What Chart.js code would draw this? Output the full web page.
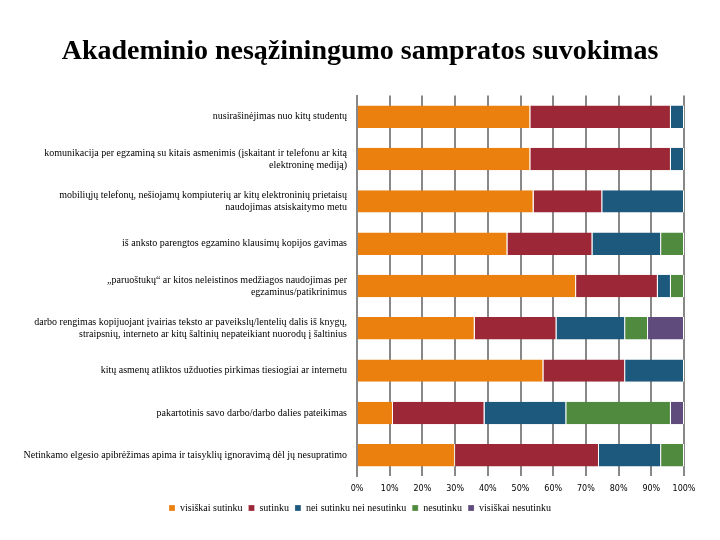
<!DOCTYPE html>
<html>
<head>
<meta charset="utf-8">
<script src="https://cdn.jsdelivr.net/npm/chart.js@4"></script>
<style>
  body { margin: 0; background: #fff; }
  #wrap { width: 720px; height: 540px; position: relative; }
</style>
</head>
<body>
<div id="wrap"><canvas id="myChart"></canvas></div>
<script>
// kategorijos (iš viršaus žemyn)
const categories = [
  "nusirašinėjimas nuo kitų studentų",
  ["komunikacija per egzaminą su kitais asmenimis (įskaitant ir telefonu ar kitą", "elektroninę mediją)"],
  ["mobiliųjų telefonų, nešiojamų kompiuterių ar kitų elektroninių prietaisų", "naudojimas atsiskaitymo metu"],
  "iš anksto parengtos egzamino klausimų kopijos gavimas",
  ["„paruoštukų“ ar kitos neleistinos medžiagos naudojimas per", "egzaminus/patikrinimus"],
  ["darbo rengimas kopijuojant įvairias teksto ar paveikslų/lentelių dalis iš knygų,", "straipsnių, interneto ar kitų šaltinių nepateikiant nuorodų į šaltinius"],
  "kitų asmenų atliktos užduoties pirkimas tiesiogiai ar internetu",
  "pakartotinis savo darbo/darbo dalies pateikimas",
  "Netinkamo elgesio apibrėžimas apima ir taisyklių ignoravimą dėl jų nesupratimo"
];

// procentai
const visiskaiSutinku    = [53, 53, 54, 46, 67, 36, 57, 11, 30];
const sutinku            = [43, 43, 21, 26, 25, 25, 25, 28, 44];
const neiSutinkuNei      = [4, 4, 25, 21, 4, 21, 18, 25, 19];
const nesutinku          = [0, 0, 0, 7, 4, 7, 0, 32, 7];
const visiskaiNesutinku  = [0, 0, 0, 0, 0, 11, 0, 4, 0];

const xTicks = [0, 10, 20, 30, 40, 50, 60, 70, 80, 90, 100];

const serif = "'Liberation Serif', 'Times New Roman', serif";

function ds(label, data, color) {
  return {
    label: label,
    data: data,
    backgroundColor: color,
    borderColor: '#ffffff',
    borderWidth: { top: 0, bottom: 0, left: 0, right: 1 },
    borderSkipped: false,
    barPercentage: 0.53,
    categoryPercentage: 1.0
  };
}

const ctx = document.getElementById('myChart');
new Chart(ctx, {
  type: 'bar',
  data: {
    labels: categories,
    datasets: [
      ds('visiškai sutinku', visiskaiSutinku, '#EC800E'),
      ds('sutinku', sutinku, '#9C2837'),
      ds('nei sutinku nei nesutinku', neiSutinkuNei, '#1D587D'),
      ds('nesutinku', nesutinku, '#4F8A3E'),
      ds('visiškai nesutinku', visiskaiNesutinku, '#5F4B7C')
    ]
  },
  options: {
    indexAxis: 'y',
    responsive: true,
    maintainAspectRatio: false,
    animation: false,
    layout: { padding: { left: 22, right: 22, top: 35, bottom: 17 } },
    plugins: {
      title: {
        display: true,
        text: 'Akademinio nesąžiningumo sampratos suvokimas',
        color: '#000',
        font: { family: serif, size: 28, weight: 'bold' },
        padding: { top: 0, bottom: 27 }
      },
      legend: {
        position: 'bottom',
        labels: {
          color: '#000',
          boxWidth: 6,
          boxHeight: 6,
          padding: 6,
          font: { family: serif, size: 10 }
        }
      },
      tooltip: { enabled: false }
    },
    scales: {
      x: {
        stacked: true,
        min: 0,
        max: 100,
        afterBuildTicks: s => { s.ticks = xTicks.map(v => ({ value: v })); },
        afterFit: s => { s.height -= 5; },
        grid: {
          color: '#888',
          lineWidth: 2,
          drawTicks: false
        },
        border: { display: false },
        ticks: {
          color: '#000',
          padding: 8,
          font: { family: "'DejaVu Sans', sans-serif", size: 8 },
          callback: v => v + '%'
        }
      },
      y: {
        stacked: true,
        grid: { display: false, drawTicks: false },
        border: { display: true, color: '#888', width: 2 },
        afterFit: s => { s.width = 335; },
        ticks: {
          color: '#000',
          padding: 10,
          font: { family: serif, size: 10 }
        }
      },
      // tuščia ašis dešinėje, kad liktų vietos „100%“ žymei
      yRight: {
        position: 'right',
        grid: { display: false, drawTicks: false },
        border: { display: false },
        ticks: { display: false },
        afterFit: s => { s.width = 14; }
      }
    }
  }
});
</script>
</body>
</html>
